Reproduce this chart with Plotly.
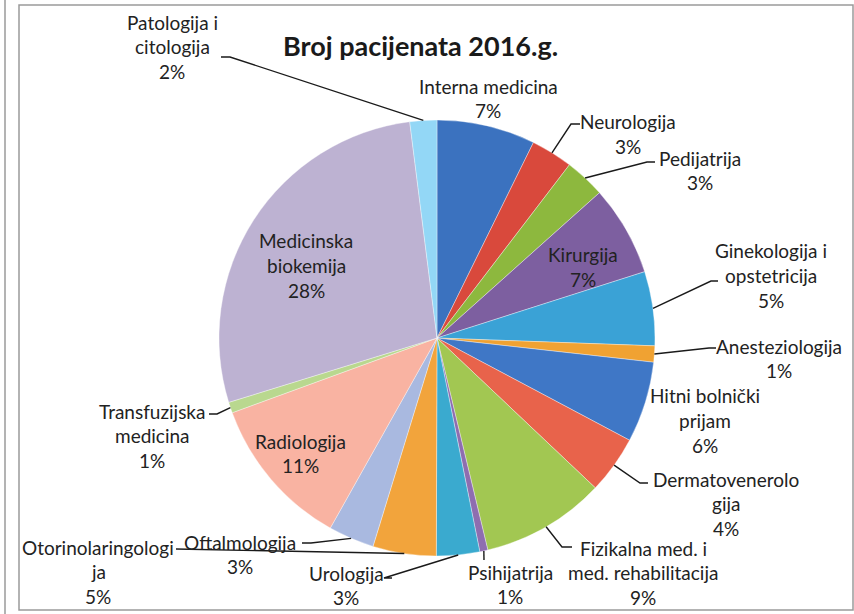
import math
import plotly.graph_objects as go

W, H = 854, 614

# ---- data ----
departments = ["Interna medicina", "Neurologija", "Pedijatrija", "Kirurgija",
               "Ginekologija i opstetricija", "Anesteziologija", "Hitni bolnički prijam",
               "Dermatovenerologija", "Fizikalna med. i med. rehabilitacija", "Psihijatrija",
               "Urologija", "Otorinolaringologija", "Oftalmologija", "Radiologija",
               "Transfuzijska medicina", "Medicinska biokemija", "Patologija i citologija"]
values = [7.3, 3.1, 3.0, 6.7, 5.5, 1.2, 6.0, 4.3, 9.2, 0.6, 3.2, 4.7, 3.4, 11.3, 0.8, 27.8, 2.0]
label_lines = ["Interna medicina", "Neurologija", "Pedijatrija", "Kirurgija",
               "Ginekologija i\nopstetricija", "Anesteziologija", "Hitni bolnički\nprijam",
               "Dermatovenerolo\ngija", "Fizikalna med. i\nmed. rehabilitacija", "Psihijatrija",
               "Urologija", "Otorinolaringologi\nja", "Oftalmologija", "Radiologija",
               "Transfuzijska\nmedicina", "Medicinska\nbiokemija", "Patologija i\ncitologija"]
colors = ["#3B72BF", "#D9493C", "#8DB83E", "#7D5FA0", "#3AA2D6", "#F0A232", "#3F77C6",
          "#E8634B", "#A2C752", "#8E6DB0", "#3AAACF", "#F2A43C", "#A9B9E0", "#F9B3A2",
          "#B9D88F", "#BDB2D2", "#93D7F6"]
title = "Broj pacijenata 2016.g."

# ---- layout (pixels) ----
CX, CY, R = 437, 338, 218
# label centre x, first line y, leader start (near text), bend point (or None)
label_pos = {
    "Interna medicina": (488, 86, None, None),
    "Neurologija": (628, 122, (580, 124), (571, 124)),
    "Pedijatrija": (700, 158, (655, 162), (647, 162)),
    "Kirurgija": (583, 255, None, None),
    "Ginekologija i opstetricija": (771, 251, (718, 281), (711, 281)),
    "Anesteziologija": (779, 346, (716, 348), (709, 348)),
    "Hitni bolnički prijam": (705, 396, None, None),
    "Dermatovenerologija": (726, 479, (648, 483), (640, 483)),
    "Fizikalna med. i med. rehabilitacija": (643, 548, (572, 547), (562, 547)),
    "Psihijatrija": (510, 572, (484, 560), None),
    "Urologija": (346, 573, (392, 578), (384, 578)),
    "Otorinolaringologija": (98, 547, (176, 549), None),
    "Oftalmologija": (240, 542, (302, 543), (311, 543)),
    "Radiologija": (300, 441, None, None),
    "Transfuzijska medicina": (152, 411, (209, 414), (217, 414)),
    "Medicinska biokemija": (306, 241, None, None),
    "Patologija i citologija": (172, 22, (221, 57), (230, 57)),
}
LINE_H = 24.5
FONT = "Lato, Carlito, sans-serif"

def px(x):
    return x / W

def py(y):
    return 1 - y / H

fig = go.Figure()
fig.add_trace(go.Pie(
    labels=departments, values=values, sort=False, direction="clockwise", rotation=0,
    marker=dict(colors=colors, line=dict(color="rgba(255,255,255,0.6)", width=0.6)),
    textinfo="none", hoverinfo="label+percent", showlegend=False,
    domain=dict(x=[px(CX - R), px(CX + R)], y=[py(CY + R), py(CY - R)]),
))

total = sum(values)
annotations = []
shapes = []
cum = 0.0
for name, v, lines in zip(departments, values, label_lines):
    mid = (cum + v / 2) / total * 2 * math.pi
    cum += v
    ex = CX + R * math.sin(mid)
    ey = CY - R * math.cos(mid)
    pct = f"{round(v / total * 100)}%"
    cx, y0, start, bend = label_pos[name]
    all_lines = lines.split("\n") + [pct]
    for i, ln in enumerate(all_lines):
        annotations.append(dict(
            x=px(cx), y=py(y0 + i * LINE_H), xref="paper", yref="paper",
            text=ln, showarrow=False, xanchor="center", yanchor="middle",
            font=dict(family=FONT, size=19, color="#222222"),
        ))
    if start is not None:
        pts = [start] + ([bend] if bend else []) + [(ex, ey)]
        path = "M " + " L ".join(f"{px(a):.5f},{py(b):.5f}" for a, b in pts)
        shapes.append(dict(type="path", path=path, xref="paper", yref="paper",
                           line=dict(color="#1a1a1a", width=1.4)))

annotations.append(dict(
    x=px(420), y=py(45), xref="paper", yref="paper", text=f"<b>{title}</b>",
    showarrow=False, xanchor="center", yanchor="middle",
    font=dict(family=FONT, size=27, color="#1a1a1a"),
))

# frame of the scanned chart
shapes.append(dict(type="rect", xref="paper", yref="paper",
                   x0=px(19), x1=px(853), y0=py(610), y1=py(5),
                   line=dict(color="#9a9a9a", width=1.5)))
shapes.append(dict(type="line", xref="paper", yref="paper",
                   x0=px(5), x1=px(5), y0=py(614), y1=py(0),
                   line=dict(color="#9a9a9a", width=1.5)))

fig.update_layout(
    width=W, height=H, margin=dict(l=0, r=0, t=0, b=0),
    paper_bgcolor="white", plot_bgcolor="white",
    annotations=annotations, shapes=shapes,
)
fig.write_html("out.html", config={"displayModeBar": False},
               post_script="document.body.style.margin='0';")
